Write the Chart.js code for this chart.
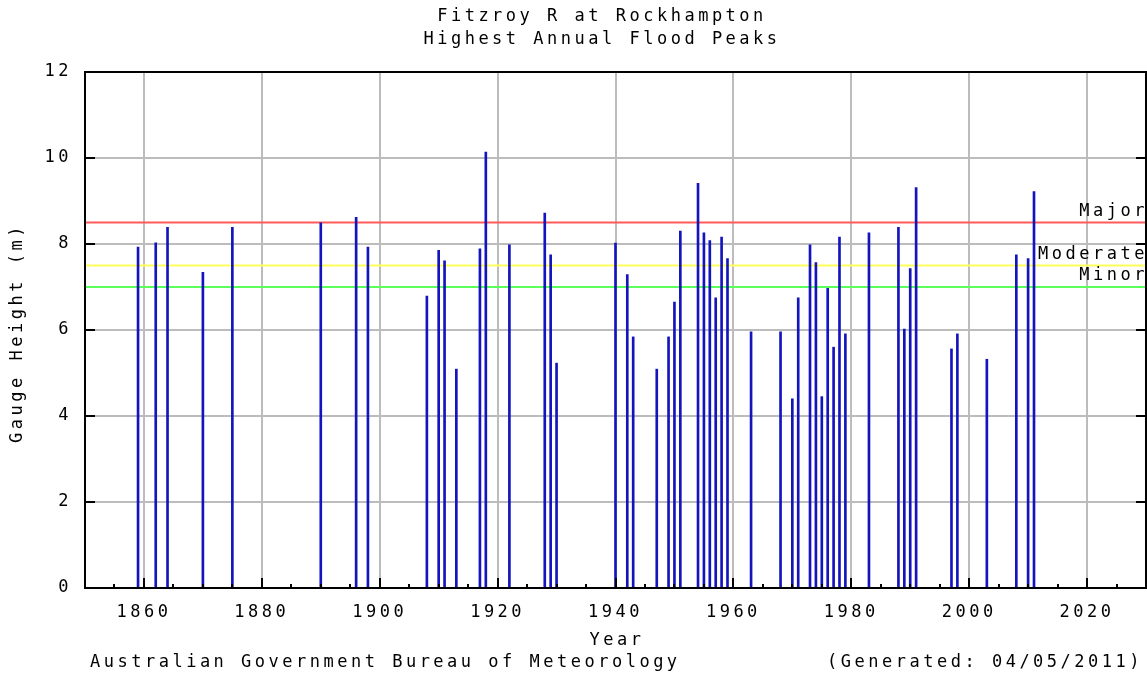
<!DOCTYPE html>
<html>
<head>
<meta charset="utf-8">
<script src="https://cdn.jsdelivr.net/npm/chart.js@4.4.0/dist/chart.umd.min.js"></script>
<style>
  html, body { margin: 0; padding: 0; background: #fff; }
  #wrap { width: 1147px; height: 675px; }
</style>
</head>
<body>
<div id="wrap"><canvas id="floodChart" width="1147" height="675"></canvas></div>
<script>
// Annual flood peaks (m)
const years = [1859, 1862, 1864, 1870, 1875, 1890, 1896, 1898, 1908, 1910, 1911, 1913,
  1917, 1918, 1922, 1928, 1929, 1930, 1940, 1942, 1943, 1947, 1949, 1950, 1951,
  1954, 1955, 1956, 1957, 1958, 1959, 1963, 1968, 1970, 1971, 1973, 1974, 1975,
  1976, 1977, 1978, 1979, 1983, 1988, 1989, 1990, 1991, 1997, 1998, 2003, 2008,
  2010, 2011];
const peaks = [7.93, 8.03, 8.39, 7.34, 8.39, 8.49, 8.62, 7.93, 6.79, 7.85, 7.61, 5.09,
  7.89, 10.14, 7.98, 8.72, 7.75, 5.23, 8.02, 7.29, 5.84, 5.09, 5.84, 6.65, 8.30,
  9.41, 8.26, 8.08, 6.75, 8.16, 7.66, 5.96, 5.96, 4.40, 6.75, 7.98, 7.57, 4.45,
  6.97, 5.60, 8.16, 5.91, 8.26, 8.39, 6.02, 7.43, 9.31, 5.56, 5.91, 5.32, 7.75,
  7.66, 9.22];

// flood classification levels
const levelNames = ['Major', 'Moderate', 'Minor'];
const levelHeights = [8.5, 7.5, 7.0];
const levelColors = ['rgb(255,90,90)', 'rgb(255,255,90)', 'rgb(90,255,90)'];

const xTicks = [1860, 1880, 1900, 1920, 1940, 1960, 1980, 2000, 2020];
const yTicks = [0, 2, 4, 6, 8, 10, 12];
const xMin = 1850, xMax = 2030;

const FONT = 'DejaVu Sans Mono';
const SIZE = 17;
const SPACING = '3.5px';

const levelSets = levelHeights.map((h, i) => ({
  type: 'line',
  label: levelNames[i],
  data: [{ x: xMin, y: h }, { x: xMax, y: h }],
  borderColor: levelColors[i],
  borderWidth: 2,
  pointRadius: 0,
  order: 2
}));

// frame, inward tick marks and all the plain texts
const decorations = {
  id: 'decorations',
  beforeDraw(chart) {
    chart.ctx.letterSpacing = SPACING;
  },
  afterDraw(chart) {
    const { ctx, chartArea: a } = chart;
    const xs = chart.scales.x, ys = chart.scales.y;
    ctx.save();
    ctx.strokeStyle = '#000';
    ctx.lineWidth = 2;
    ctx.strokeRect(a.left, a.top, a.right - a.left, a.bottom - a.top);

    ctx.beginPath();
    yTicks.forEach(v => {
      const py = Math.round(ys.getPixelForValue(v));
      ctx.moveTo(a.left, py); ctx.lineTo(a.left + 10, py);
      ctx.moveTo(a.right, py); ctx.lineTo(a.right - 10, py);
    });
    for (let yr = xMin + 5; yr < xMax; yr += 5) {
      const px = Math.round(xs.getPixelForValue(yr));
      const len = xTicks.includes(yr) ? 10 : 4;
      ctx.moveTo(px, a.bottom); ctx.lineTo(px, a.bottom - len);
    }
    ctx.stroke();

    ctx.fillStyle = '#000';
    ctx.font = SIZE + 'px "' + FONT + '"';
    ctx.letterSpacing = SPACING;

    // level labels sit just above their lines
    ctx.textAlign = 'right';
    ctx.textBaseline = 'middle';
    levelHeights.forEach((h, i) => {
      ctx.fillText(levelNames[i], a.right + 2, ys.getPixelForValue(h) - 11);
    });

    ctx.textAlign = 'center';
    ctx.fillText('Fitzroy R at Rockhampton', 602, 17);
    ctx.fillText('Highest Annual Flood Peaks', 602, 40);
    ctx.fillText('Year', 617, 641);

    ctx.textAlign = 'left';
    ctx.fillText('Australian Government Bureau of Meteorology', 90, 663);
    ctx.textAlign = 'right';
    ctx.fillText('(Generated: 04/05/2011)', 1143, 663);

    ctx.translate(18, 333);
    ctx.rotate(-Math.PI / 2);
    ctx.textAlign = 'center';
    ctx.fillText('Gauge Height (m)', 0, 0);
    ctx.restore();
  }
};

const ctx = document.getElementById('floodChart').getContext('2d');
const floodChart = new Chart(ctx, {
  type: 'bar',
  data: {
    datasets: [{
      type: 'bar',
      label: 'Flood peak',
      data: years.map((yr, i) => ({ x: yr, y: peaks[i] })),
      backgroundColor: 'rgb(20,20,190)',
      barThickness: 2,
      order: 1
    }, ...levelSets]
  },
  options: {
    responsive: false,
    animation: false,
    layout: { padding: { top: 72, right: 1, left: 0, bottom: 0 } },
    plugins: {
      legend: { display: false },
      title: { display: false },
      tooltip: { enabled: false }
    },
    scales: {
      x: {
        type: 'linear',
        min: xMin,
        max: xMax,
        offset: false,
        afterBuildTicks: s => { s.ticks = xTicks.map(v => ({ value: v })); },
        afterFit: s => { s.height = 87; },
        grid: { color: '#bcbcbc', lineWidth: 2, drawTicks: false, offset: false },
        border: { display: false },
        ticks: {
          color: '#000',
          font: { family: FONT, size: SIZE },
          padding: 14,
          maxRotation: 0,
          autoSkip: false,
          callback: v => String(v)
        }
      },
      y: {
        min: 0,
        max: 12,
        afterBuildTicks: s => { s.ticks = yTicks.map(v => ({ value: v })); },
        afterFit: s => { s.width = 85; },
        grid: { color: '#bcbcbc', lineWidth: 2, drawTicks: false },
        border: { display: false },
        ticks: {
          color: '#000',
          font: { family: FONT, size: SIZE },
          padding: 13
        }
      }
    }
  },
  plugins: [decorations]
});
</script>
</body>
</html>
